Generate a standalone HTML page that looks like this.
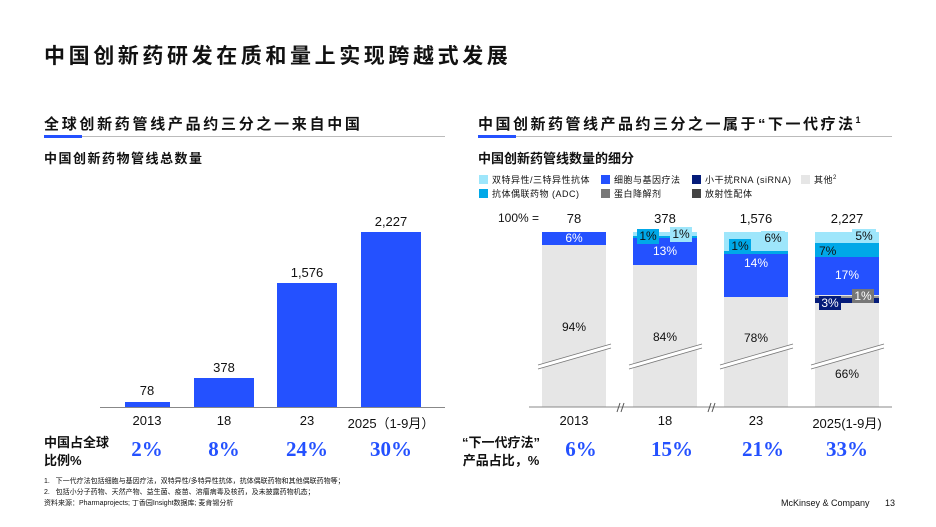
<!DOCTYPE html>
<html><head><meta charset="utf-8"><style>
body{margin:0;width:936px;height:527px;background:#fff;position:relative;overflow:hidden;font-family:"Liberation Sans","Noto Sans CJK SC",sans-serif;color:#111}
.a{position:absolute;white-space:nowrap}
.cj{font-family:"Liberation Sans","Noto Sans CJK SC",sans-serif;font-weight:bold}
.big{font-family:"Liberation Serif","Noto Serif CJK SC",serif;font-weight:bold;color:#2451ff;font-size:21px}
.c{text-align:center}
</style></head><body>
<div class="a cj" style="left:44px;top:40px;font-size:21px;letter-spacing:3.6px">中国创新药研发在质和量上实现跨越式发展</div>

<div class="a cj" style="left:44px;top:113px;font-size:15px;letter-spacing:2.7px">全球创新药管线产品约三分之一来自中国</div>
<div class="a" style="left:44px;top:136px;width:401px;height:1px;background:#bbb"></div>
<div class="a" style="left:44px;top:135px;width:38px;height:3px;background:#2451ff"></div>
<div class="a cj" style="left:44px;top:148px;font-size:13px;letter-spacing:1.5px">中国创新药物管线总数量</div>

<div class="a cj" style="left:478px;top:113px;font-size:15px;letter-spacing:2.5px">中国创新药管线产品约三分之一属于“下一代疗法<sup style="font-size:9px">1</sup></div>
<div class="a" style="left:478px;top:136px;width:414px;height:1px;background:#bbb"></div>
<div class="a" style="left:478px;top:135px;width:38px;height:3px;background:#2451ff"></div>
<div class="a cj" style="left:478px;top:148px;font-size:13px">中国创新药管线数量的细分</div>

<!-- left chart -->
<div class="a" style="left:125px;top:402px;width:45px;height:5px;background:#2451ff"></div>
<div class="a" style="left:194px;top:378px;width:60px;height:29px;background:#2451ff"></div>
<div class="a" style="left:277px;top:283px;width:60px;height:124px;background:#2451ff"></div>
<div class="a" style="left:361px;top:232px;width:60px;height:175px;background:#2451ff"></div>
<div class="a c" style="left:112px;top:383px;width:70px;font-size:13px">78</div>
<div class="a c" style="left:189px;top:360px;width:70px;font-size:13px">378</div>
<div class="a c" style="left:272px;top:265px;width:70px;font-size:13px">1,576</div>
<div class="a c" style="left:356px;top:214px;width:70px;font-size:13px">2,227</div>
<div class="a" style="left:100px;top:407px;width:345px;height:1px;background:#888"></div>
<div class="a c" style="left:112px;top:413px;width:70px;font-size:13px">2013</div>
<div class="a c" style="left:189px;top:413px;width:70px;font-size:13px">18</div>
<div class="a c" style="left:272px;top:413px;width:70px;font-size:13px">23</div>
<div class="a c" style="left:346px;top:413px;width:90px;font-size:13px">2025（1-9月）</div>
<div class="a cj" style="left:44px;top:434px;font-size:13px;line-height:18px">中国占全球<br>比例%</div>
<div class="a big c" style="left:112px;top:437px;width:70px">2%</div>
<div class="a big c" style="left:189px;top:437px;width:70px">8%</div>
<div class="a big c" style="left:272px;top:437px;width:70px">24%</div>
<div class="a big c" style="left:356px;top:437px;width:70px">30%</div>

<!-- legend -->
<div style="font-size:9px;letter-spacing:0.5px">
<div class="a" style="left:479px;top:175px;width:9px;height:9px;background:#9ee6fb"></div><div class="a" style="left:492px;top:173px">双特异性/三特异性抗体</div>
<div class="a" style="left:601px;top:175px;width:9px;height:9px;background:#2451ff"></div><div class="a" style="left:614px;top:173px">细胞与基因疗法</div>
<div class="a" style="left:692px;top:175px;width:9px;height:9px;background:#051c7a"></div><div class="a" style="left:705px;top:173px">小干扰RNA (siRNA)</div>
<div class="a" style="left:801px;top:175px;width:9px;height:9px;background:#e6e6e6"></div><div class="a" style="left:814px;top:173px">其他<sup style="font-size:6px">2</sup></div>
<div class="a" style="left:479px;top:189px;width:9px;height:9px;background:#00a8e8"></div><div class="a" style="left:492px;top:187px">抗体偶联药物 (ADC)</div>
<div class="a" style="left:601px;top:189px;width:9px;height:9px;background:#777"></div><div class="a" style="left:614px;top:187px">蛋白降解剂</div>
<div class="a" style="left:692px;top:189px;width:9px;height:9px;background:#444"></div><div class="a" style="left:705px;top:187px">放射性配体</div>
</div>

<!-- right chart -->
<div class="a" style="left:498px;top:211px;font-size:12px">100% =</div>
<div class="a c" style="left:539px;top:211px;width:70px;font-size:13px">78</div>
<div class="a c" style="left:630px;top:211px;width:70px;font-size:13px">378</div>
<div class="a c" style="left:721px;top:211px;width:70px;font-size:13px">1,576</div>
<div class="a c" style="left:812px;top:211px;width:70px;font-size:13px">2,227</div>

<div class="a" style="left:542px;top:232px;width:64px;height:175px;background:#e6e6e6"></div>
<div class="a" style="left:542px;top:232px;width:64px;height:13px;background:#2451ff"></div>
<div class="a c" style="left:542px;top:231px;width:64px;font-size:12px;color:#fff">6%</div>

<div class="a" style="left:633px;top:232px;width:64px;height:175px;background:#e6e6e6"></div>
<div class="a" style="left:633px;top:232px;width:64px;height:4px;background:#9ee6fb"></div>
<div class="a" style="left:633px;top:236px;width:64px;height:2px;background:#00a8e8"></div>
<div class="a" style="left:633px;top:238px;width:64px;height:27px;background:#2451ff"></div>
<div class="a c" style="left:637px;top:229px;width:22px;height:15px;background:#00a8e8;font-size:12px">1%</div>
<div class="a c" style="left:670px;top:227px;width:22px;height:15px;background:#9ee6fb;font-size:12px">1%</div>
<div class="a c" style="left:633px;top:244px;width:64px;font-size:12px;color:#fff">13%</div>

<div class="a" style="left:724px;top:232px;width:64px;height:175px;background:#e6e6e6"></div>
<div class="a" style="left:724px;top:232px;width:64px;height:19px;background:#9ee6fb"></div>
<div class="a" style="left:724px;top:251px;width:64px;height:3px;background:#00a8e8"></div>
<div class="a" style="left:724px;top:254px;width:64px;height:43px;background:#2451ff"></div>
<div class="a c" style="left:729px;top:239px;width:22px;height:15px;background:#00a8e8;font-size:12px">1%</div>
<div class="a c" style="left:761px;top:231px;width:24px;height:15px;background:#9ee6fb;font-size:12px">6%</div>
<div class="a c" style="left:724px;top:256px;width:64px;font-size:12px;color:#fff">14%</div>

<div class="a" style="left:815px;top:232px;width:64px;height:175px;background:#e6e6e6"></div>
<div class="a" style="left:815px;top:232px;width:64px;height:11px;background:#9ee6fb"></div>
<div class="a" style="left:815px;top:243px;width:64px;height:14px;background:#00a8e8"></div>
<div class="a" style="left:815px;top:257px;width:64px;height:38px;background:#2451ff"></div>
<div class="a" style="left:815px;top:296px;width:64px;height:2px;background:#999"></div>
<div class="a" style="left:815px;top:298px;width:64px;height:5px;background:#051c7a"></div>
<div class="a c" style="left:852px;top:229px;width:24px;height:14px;background:#9ee6fb;font-size:12px">5%</div>
<div class="a" style="left:819px;top:244px;font-size:12px">7%</div>
<div class="a c" style="left:819px;top:296px;width:22px;height:14px;background:#051c7a;font-size:12px;color:#fff">3%</div>
<div class="a c" style="left:815px;top:268px;width:64px;font-size:12px;color:#fff">17%</div>
<div class="a c" style="left:852px;top:289px;width:22px;height:14px;background:#777;font-size:12px;color:#fff">1%</div>

<div class="a c" style="left:542px;top:320px;width:64px;font-size:12px">94%</div>
<div class="a c" style="left:633px;top:330px;width:64px;font-size:12px">84%</div>
<div class="a c" style="left:724px;top:331px;width:64px;font-size:12px">78%</div>
<div class="a c" style="left:815px;top:367px;width:64px;font-size:12px">66%</div>

<svg class="a" style="left:0;top:0" width="936" height="527">
<g stroke="#fff" stroke-width="4" fill="none">
<line x1="538" y1="367" x2="611" y2="346"/><line x1="629" y1="367" x2="702" y2="346"/><line x1="720" y1="367" x2="793" y2="346"/><line x1="811" y1="367" x2="884" y2="346"/>
</g>
<g stroke="#777" stroke-width="0.8" fill="none">
<line x1="538" y1="365" x2="611" y2="344"/><line x1="538" y1="369" x2="611" y2="348"/>
<line x1="629" y1="365" x2="702" y2="344"/><line x1="629" y1="369" x2="702" y2="348"/>
<line x1="720" y1="365" x2="793" y2="344"/><line x1="720" y1="369" x2="793" y2="348"/>
<line x1="811" y1="365" x2="884" y2="344"/><line x1="811" y1="369" x2="884" y2="348"/>
</g>
<line x1="529" y1="407" x2="892" y2="407" stroke="#888"/>
<g stroke="#555" stroke-width="1"><line x1="617" y1="412" x2="620" y2="403"/><line x1="621" y1="412" x2="624" y2="403"/><line x1="708" y1="412" x2="711" y2="403"/><line x1="712" y1="412" x2="715" y2="403"/></g>
</svg>
<div class="a c" style="left:539px;top:413px;width:70px;font-size:13px">2013</div>
<div class="a c" style="left:630px;top:413px;width:70px;font-size:13px">18</div>
<div class="a c" style="left:721px;top:413px;width:70px;font-size:13px">23</div>
<div class="a c" style="left:802px;top:413px;width:90px;font-size:13px">2025(1-9月)</div>
<div class="a cj" style="left:462px;top:434px;font-size:13px;line-height:18px;text-align:center">“下一代疗法”<br>产品占比，%</div>
<div class="a big c" style="left:546px;top:437px;width:70px">6%</div>
<div class="a big c" style="left:637px;top:437px;width:70px">15%</div>
<div class="a big c" style="left:728px;top:437px;width:70px">21%</div>
<div class="a big c" style="left:812px;top:437px;width:70px">33%</div>

<div class="a" style="left:44px;top:476px;font-size:7px;line-height:11px">1.&nbsp;&nbsp;&nbsp;下一代疗法包括细胞与基因疗法，双特异性/多特异性抗体，抗体偶联药物和其他偶联药物等；<br>2.&nbsp;&nbsp;&nbsp;包括小分子药物、天然产物、益生菌、疫苗、溶瘤病毒及核药，及未披露药物机态；<br>资料来源：Pharmaprojects; 丁香园Insight数据库; 麦肯锡分析</div>
<div class="a" style="left:781px;top:498px;font-size:9px">McKinsey &amp; Company</div>
<div class="a" style="left:885px;top:498px;font-size:9px">13</div>
</body></html>
